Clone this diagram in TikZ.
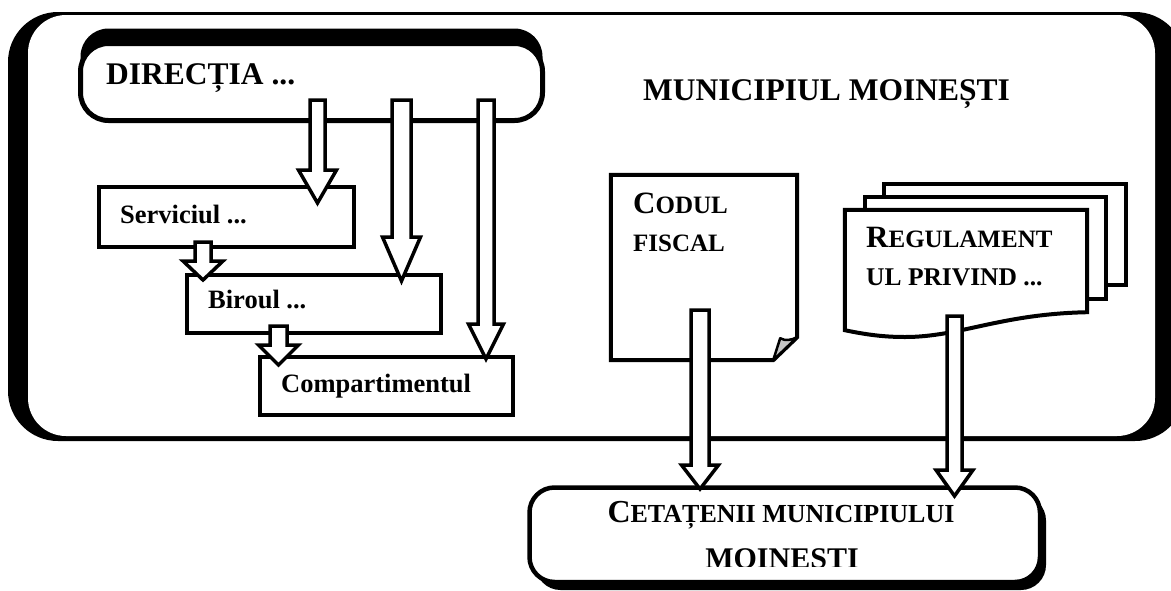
\documentclass[tikz,border=0pt]{standalone}
\usepackage{fontspec}
\setmainfont{Liberation Serif}
\usetikzlibrary{shadows,calc}

% capital followed by smaller capitals: sizes, first letter, rest
\newcommand\capsc[4]{{\fontsize{#1}{36}\selectfont #3}{\fontsize{#2}{30}\selectfont #4}}
% hollow block arrow: start, tip, shaft half-width, head half-width, head length
\newcommand\fatarrow[5]{%
  \draw[fat] let \p1=(#1), \p2=(#2) in
    (\x1-#3pt,\y1) -- (\x1+#3pt,\y1) -- (\x1+#3pt,\y2+#5pt) -- (\x1+#4pt,\y2+#5pt)
    -- (\x2,\y2) -- (\x1-#4pt,\y2+#5pt) -- (\x1-#3pt,\y2+#5pt) -- cycle;}

\begin{document}
\begin{tikzpicture}[x=1pt,y=-1pt,
  box/.style={draw=black, line width=4pt, fill=white, inner sep=0pt},
  lbl/.style={inner sep=0pt, anchor=base west, font=\bfseries\fontsize{26.5}{30}\selectfont},
  big/.style={inner sep=0pt, anchor=base west, font=\bfseries\fontsize{31.5}{36}\selectfont},
  doctext/.style={inner sep=0pt, anchor=base west, font=\bfseries},
  fat/.style={draw=black, line width=3.5pt, fill=white, line join=miter},
]
\useasboundingbox (0,0) rectangle (1171,590);

% outer frame with its heavy side shading
\node[fill=black, rounded corners=50pt, minimum width=1177pt, minimum height=429pt, inner sep=0pt] (frameshadow) at (596.5,226.5) {};
\node[fill=white, rounded corners=38pt, minimum width=1127pt, minimum height=421pt, inner sep=0pt] (frame) at (591.5,225.5) {};

% direction box
\node[box, line width=5pt, rounded corners=28pt, minimum width=462pt, minimum height=77pt,
      general shadow={fill=black, shadow yshift=15pt}] (dir) at (311.5,82) {};
\node[big] (dirlbl) at (106,84) {DIRECȚIA ...};

\node[big] (title) at (643,100) {MUNICIPIUL MOINEȘTI};

% subordinate units
\node[box, minimum width=255pt, minimum height=60pt] (serv) at (226.5,217) {};
\node[lbl] (servlbl) at (120,223) {Serviciul ...};
\node[box, minimum width=254pt, minimum height=58pt] (bir) at (314,304) {};
\node[lbl] (birlbl) at (208,308) {Biroul ...};
\node[box, minimum width=253pt, minimum height=58pt] (comp) at (386.5,386) {};
\node[lbl] (complbl) at (281,392) {Compartimentul};

% fiscal code sheet with folded corner
\node[minimum width=186pt, minimum height=185pt, inner sep=0pt] (cod) at (704,267.5) {};
\coordinate (fp) at ([yshift=23pt]cod.south east);
\coordinate (fq) at ([xshift=-24pt]cod.south east);
\coordinate (fr) at ([xshift=-17pt,yshift=22pt]cod.south east);
\draw[line width=4pt, fill=white, line join=miter]
  (cod.north west) -- (cod.north east) -- (fp) -- (fq) -- (cod.south west) -- cycle;
\draw[line width=2.5pt, fill=black!22, line join=round]
  (fp) .. controls ([xshift=-6pt,yshift=-3pt]fp) and ([xshift=5pt,yshift=-3pt]fr) .. (fr) -- (fq) -- cycle;
\node[doctext] (codlbl) at (633,213) {\capsc{31}{25}{C}{ODUL}};
\node[doctext, font=\bfseries\fontsize{25}{30}\selectfont] (codlbl2) at (633,251) {FISCAL};

% stack of regulation sheets
\node[box, minimum width=242pt, minimum height=101pt] (pg3) at (1005,234.5) {};
\node[box, minimum width=241pt, minimum height=102pt] (pg2) at (985.5,248) {};
\node[minimum width=242pt, minimum height=120pt, inner sep=0pt] (reg) at (966,270) {};
\draw[line width=4pt, fill=white, line join=miter]
  (reg.north west) -- (reg.north east) -- ([yshift=18pt]reg.south east)
  .. controls (1000,314) and (960,337) .. (905,337)
  .. controls (885,337) and (868,335) .. (reg.south west) -- cycle;
\node[doctext] (reglbl) at (866,247) {\capsc{31}{25}{R}{EGULAMENT}};
\node[doctext, font=\bfseries\fontsize{25.5}{30}\selectfont] (reglbl2) at (866,285) {UL PRIVIND ...};

% citizens box
\node[box, line width=4.5pt, rounded corners=25pt, minimum width=510.5pt, minimum height=94.5pt,
      general shadow={fill=black, shadow xshift=6pt, shadow yshift=-8pt}] (cet) at (784.75,534.75) {};
\node[doctext, anchor=base] (cetlbl) at (781,522) {\capsc{32}{26}{C}{ETAȚENII MUNICIPIULUI}};
\begin{scope}
  \clip (500,480) rectangle (1100,566);
  \node[inner sep=0pt, anchor=base, font=\bfseries\fontsize{30}{36}\selectfont] (cetlbl2) at (782,568) {MOINEȘTI};
\end{scope}

% arrow ends
\coordinate (dA) at (317.5,100);  \coordinate (sA) at (317.5,203);
\coordinate (dB) at (401.5,100);  \coordinate (bB) at (401.5,281);
\coordinate (dC) at (486,100);    \coordinate (cC) at (486,359);
\coordinate (sS) at (203,242);    \coordinate (bS) at (203,280);
\coordinate (bT) at (278.5,326);  \coordinate (cT) at (278.5,365);
\coordinate (kD) at (700,310);    \coordinate (eD) at (700,489);
\coordinate (rE) at (954.5,316);  \coordinate (eE) at (954.5,496);

\fatarrow{dA}{sA}{7.5}{19}{33}
\fatarrow{dB}{bB}{9.5}{19}{44}
\fatarrow{dC}{cC}{8}{17.5}{35}
\fatarrow{sS}{bS}{8}{20}{19}
\fatarrow{bT}{cT}{8.5}{20}{20}
\fatarrow{kD}{eD}{9}{18.5}{24}
\fatarrow{rE}{eE}{7.5}{18.5}{26}
\end{tikzpicture}
\end{document}
